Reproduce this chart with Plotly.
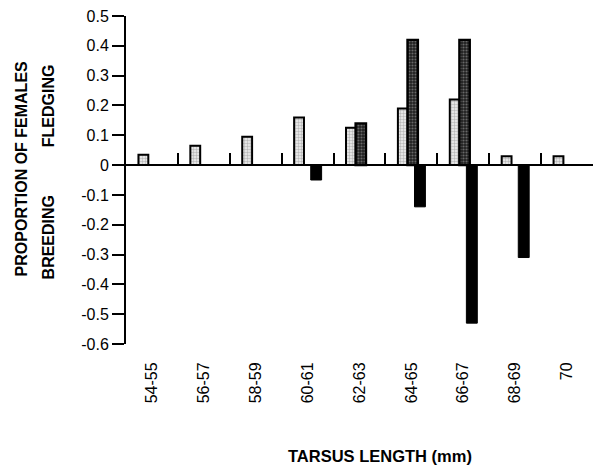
import plotly.graph_objects as go

# ---- data ----
categories = ["54-55", "56-57", "58-59", "60-61", "62-63", "64-65", "66-67", "68-69", "70"]
all_females = [0.035, 0.065, 0.095, 0.16, 0.125, 0.19, 0.22, 0.03, 0.03]
fledging = [None, None, None, None, 0.14, 0.42, 0.42, None, None]
breeding = [None, None, None, -0.05, None, -0.14, -0.53, -0.31, None]
y_ticks = [0.5, 0.4, 0.3, 0.2, 0.1, 0, -0.1, -0.2, -0.3, -0.4, -0.5, -0.6]
y_tick_labels = ["0.5", "0.4", "0.3", "0.2", "0.1", "0", "-0.1", "-0.2", "-0.3", "-0.4", "-0.5", "-0.6"]
Y_MIN, Y_MAX = -0.6, 0.5

FONT = "Liberation Sans, Arial, Helvetica, sans-serif"

fig = go.Figure()
fig.add_trace(go.Bar(
    x=categories, y=all_females, name="All females",
    offset=-0.26, width=0.19,
    marker=dict(color="white",
                line=dict(color="black", width=2),
                pattern=dict(shape=".", fgcolor="#808080", bgcolor="#f2f2f2", size=3, solidity=0.5)),
))
fig.add_trace(go.Bar(
    x=categories, y=fledging, name="Fledging",
    offset=-0.075, width=0.2,
    marker=dict(color="#1a1a1a",
                line=dict(color="black", width=2.4),
                pattern=dict(shape=".", fgcolor="#b0b0b0", bgcolor="#202020", size=3, solidity=0.4)),
))
fig.add_trace(go.Bar(
    x=categories, y=breeding, name="Breeding",
    offset=0.06, width=0.21,
    marker=dict(color="black", line=dict(color="black", width=1)),
))

fig.update_layout(
    width=602, height=468,
    margin=dict(l=126, r=9, t=16, b=124),
    paper_bgcolor="white", plot_bgcolor="white",
    showlegend=False, barmode="overlay",
    font=dict(family=FONT, size=16, color="black"),
    xaxis=dict(
        type="category", categoryorder="array", categoryarray=categories,
        range=[-0.5, len(categories) - 0.5], automargin=False,
        showline=False, showgrid=False, zeroline=False,
        ticks="outside", ticklen=11, tickcolor="rgba(0,0,0,0)",
        tickangle=-90, tickfont=dict(size=16),
    ),
    xaxis2=dict(
        type="category", categoryorder="array", categoryarray=categories,
        overlaying="x", matches="x", anchor="free", automargin=False,
        position=-Y_MIN / (Y_MAX - Y_MIN),
        showline=True, linecolor="black", linewidth=2,
        showgrid=False, zeroline=False,
        ticks="inside", tickson="boundaries", ticklen=11, tickwidth=1.5, tickcolor="black",
        showticklabels=False,
    ),
    yaxis=dict(
        range=[Y_MIN, Y_MAX], automargin=False,
        tickmode="array", tickvals=y_ticks, ticktext=y_tick_labels,
        showline=True, linecolor="black", linewidth=2,
        ticks="outside", ticklen=12, tickwidth=1.5, tickcolor="black",
        showgrid=False, zeroline=False,
        tickfont=dict(size=16),
    ),
    annotations=[
        dict(text="<b>PROPORTION OF FEMALES</b>", textangle=-90,
             xref="paper", yref="paper", x=-0.223, y=0.535,
             xanchor="center", yanchor="middle", showarrow=False,
             font=dict(size=16)),
        dict(text="<b>FLEDGING</b>", textangle=-90,
             xref="paper", yref="paper", x=-0.167, y=0.725,
             xanchor="center", yanchor="middle", showarrow=False,
             font=dict(size=16)),
        dict(text="<b>BREEDING</b>", textangle=-90,
             xref="paper", yref="paper", x=-0.167, y=0.325,
             xanchor="center", yanchor="middle", showarrow=False,
             font=dict(size=16)),
        dict(text="<b>TARSUS LENGTH (mm)</b>",
             xref="paper", yref="paper", x=0.543, y=-0.34,
             xanchor="center", yanchor="middle", showarrow=False,
             font=dict(size=16.5)),
    ],
)

fig.add_trace(go.Scatter(x=categories, y=[None] * len(categories), xaxis="x2",
                         showlegend=False, hoverinfo="skip"))

fig.write_html("out.html", config={"displayModeBar": False},
               post_script="document.body.style.margin='0';")
